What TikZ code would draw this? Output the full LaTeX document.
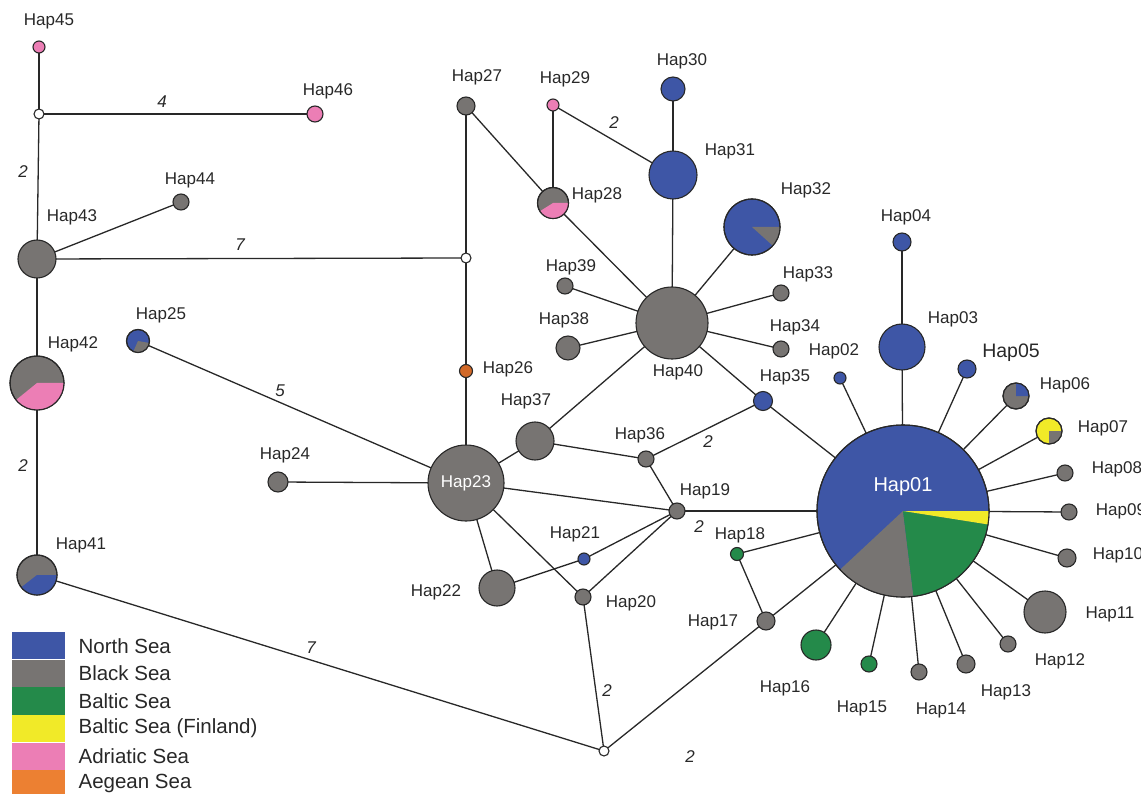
\documentclass[tikz,border=0pt]{standalone}
\usepackage{fontspec}
\setmainfont{Liberation Sans}
\usetikzlibrary{backgrounds}
\definecolor{nsea}{RGB}{62,86,166}
\definecolor{bsea}{RGB}{119,116,114}
\definecolor{balt}{RGB}{36,138,74}
\definecolor{fin}{RGB}{241,234,40}
\definecolor{adr}{RGB}{236,126,181}
\definecolor{aeg}{RGB}{236,128,50}
\definecolor{aegnode}{RGB}{210,105,40}
\definecolor{edgec}{RGB}{40,40,40}
\definecolor{txt}{RGB}{40,40,40}
\tikzset{
  hap/.style={circle, draw=edgec, line width=1.1pt, inner sep=0pt, outer sep=0pt},
  med/.style={hap, fill=white, minimum size=10pt},
  lbl/.style={text=txt, font=\fontsize{17}{20}\selectfont, inner sep=0pt},
  biglbl/.style={text=txt, font=\fontsize{19.5}{22}\selectfont, inner sep=0pt},
  whitelbl/.style={text=white, inner sep=0pt},
  num/.style={text=txt, font=\fontsize{17}{20}\selectfont\itshape, inner sep=0pt},
  link/.style={draw=edgec, line width=1.3pt},
  legbox/.style={inner sep=0pt, minimum width=53pt, minimum height=27.2pt},
  legtxt/.style={text=txt, font=\fontsize{20.5}{24}\selectfont, inner sep=0pt, anchor=west},
}
\newcommand{\hapnode}[5]{\node[hap, minimum size=#4*2pt, fill=#5] (#1) at (#2,-#3) {};}
\newcommand{\hapslice}[5]{\fill[#5] (#1.center) -- ++(#3:#2pt) arc[start angle=#3, end angle=#4, radius=#2pt] -- cycle;}
\newcommand{\hapring}[2]{\draw[draw=edgec, line width=1.1pt] (#1.center) circle[radius=#2pt];}
\begin{document}
\begin{tikzpicture}[x=1pt,y=1pt]
\useasboundingbox (0,-794) rectangle (1141,0);
\clip (0,-794) rectangle (1141,0);

% median vectors
\node[med] (m1) at (39,-114) {};
\node[med] (m2) at (466,-258) {};
\node[med] (m3) at (604,-751) {};

% haplotypes
\hapnode{h01}{903}{511}{86}{nsea}
\hapnode{h02}{840}{378}{6}{nsea}
\hapnode{h03}{902}{347}{23}{nsea}
\hapnode{h04}{902}{242}{9}{nsea}
\hapnode{h05}{967}{369}{9}{nsea}
\hapnode{h06}{1016}{396}{13}{bsea}
\hapnode{h07}{1049}{431}{13}{fin}
\hapnode{h08}{1065}{473}{8}{bsea}
\hapnode{h09}{1069}{512}{8}{bsea}
\hapnode{h10}{1067}{558}{9}{bsea}
\hapnode{h11}{1045}{612}{21}{bsea}
\hapnode{h12}{1008}{644}{8}{bsea}
\hapnode{h13}{966}{664}{9}{bsea}
\hapnode{h14}{919}{672}{8}{bsea}
\hapnode{h15}{869}{664}{8}{balt}
\hapnode{h16}{816}{645}{15}{balt}
\hapnode{h17}{766}{621}{9}{bsea}
\hapnode{h18}{737}{554}{6.5}{balt}
\hapnode{h19}{677}{511}{8}{bsea}
\hapnode{h20}{583}{597}{8}{bsea}
\hapnode{h21}{584}{559}{6}{nsea}
\hapnode{h22}{497}{588}{18}{bsea}
\hapnode{h23}{466}{483}{38}{bsea}
\hapnode{h24}{278}{482}{10}{bsea}
\hapnode{h25}{138}{341}{11.5}{nsea}
\hapnode{h26}{466}{371}{6.5}{aegnode}
\hapnode{h27}{466}{106}{9}{bsea}
\hapnode{h28}{553}{203}{15.5}{bsea}
\hapnode{h29}{553}{105}{6}{adr}
\hapnode{h30}{673}{89}{12}{nsea}
\hapnode{h31}{673}{175}{24}{nsea}
\hapnode{h32}{752}{227}{28}{nsea}
\hapnode{h33}{781}{293}{8}{bsea}
\hapnode{h34}{781}{349}{8}{bsea}
\hapnode{h35}{763}{401}{9.5}{nsea}
\hapnode{h36}{646}{459}{8}{bsea}
\hapnode{h37}{535}{441}{19}{bsea}
\hapnode{h38}{568}{348}{12}{bsea}
\hapnode{h39}{565}{286}{8}{bsea}
\hapnode{h40}{672}{323}{36}{bsea}
\hapnode{h41}{37}{575}{20}{bsea}
\hapnode{h42}{37}{383}{27}{bsea}
\hapnode{h43}{37}{259}{19}{bsea}
\hapnode{h44}{181}{202}{8}{bsea}
\hapnode{h45}{39}{47}{6}{adr}
\hapnode{h46}{315}{114}{8}{adr}

% pie slices
\hapslice{h01}{86}{223}{277}{bsea}
\hapslice{h01}{86}{277}{351}{balt}
\hapslice{h01}{86}{351}{360}{fin}
\hapring{h01}{86}
\hapslice{h06}{13}{0}{90}{nsea}
\hapring{h06}{13}
\hapslice{h07}{13}{270}{360}{bsea}
\hapring{h07}{13}
\hapslice{h32}{28}{318}{360}{bsea}
\hapring{h32}{28}
\hapslice{h28}{15.5}{212}{360}{adr}
\hapring{h28}{15.5}
\hapslice{h42}{27}{219}{360}{adr}
\hapring{h42}{27}
\hapslice{h41}{20}{218}{360}{nsea}
\hapring{h41}{20}
\hapslice{h25}{11.5}{246}{350}{bsea}
\hapring{h25}{11.5}

% connectors
\begin{scope}[on background layer]
\draw[link] (h45) -- (m1);
\draw[link] (m1) -- (h46);
\draw[link] (m1) -- (h43);
\draw[link] (h43) -- (h44);
\draw[link] (h43) -- (m2);
\draw[link] (h43) -- (h42);
\draw[link] (h42) -- (h41);
\draw[link] (h41) -- (m3);
\draw[link] (m3) -- (h20);
\draw[link] (m3) -- (h17);
\draw[link] (m2) -- (h27);
\draw[link] (m2) -- (h26);
\draw[link] (h26) -- (h23);
\draw[link] (h27) -- (h28);
\draw[link] (h29) -- (h28);
\draw[link] (h29) -- (h31);
\draw[link] (h30) -- (h31);
\draw[link] (h31) -- (h40);
\draw[link] (h28) -- (h40);
\draw[link] (h32) -- (h40);
\draw[link] (h33) -- (h40);
\draw[link] (h34) -- (h40);
\draw[link] (h39) -- (h40);
\draw[link] (h38) -- (h40);
\draw[link] (h37) -- (h40);
\draw[link] (h35) -- (h40);
\draw[link] (h35) -- (h01);
\draw[link] (h35) -- (h36);
\draw[link] (h37) -- (h23);
\draw[link] (h37) -- (h36);
\draw[link] (h36) -- (h19);
\draw[link] (h23) -- (h19);
\draw[link] (h19) -- (h01);
\draw[link] (h25) -- (h23);
\draw[link] (h24) -- (h23);
\draw[link] (h23) -- (h22);
\draw[link] (h23) -- (h20);
\draw[link] (h22) -- (h21);
\draw[link] (h21) -- (h19);
\draw[link] (h20) -- (h19);
\draw[link] (h18) -- (h01);
\draw[link] (h18) -- (h17);
\draw[link] (h17) -- (h01);
\draw[link] (h03) -- (h04);
\foreach \k in {02,03,05,06,07,08,09,10,11,12,13,14,15,16}{
  \draw[link] (h01) -- (h\k);
}
\end{scope}

% labels
\node[whitelbl, font=\fontsize{20}{22}\selectfont] (t01) at (903,-487) {Hap01};
\node[lbl] (t02) at (834,-351) {Hap02};
\node[lbl] (t03) at (953,-319) {Hap03};
\node[lbl] (t04) at (906,-217) {Hap04};
\node[biglbl] (t05) at (1011,-353) {Hap05};
\node[lbl] (t06) at (1065,-385) {Hap06};
\node[lbl] (t07) at (1103,-428) {Hap07};
\node[lbl] (t08) at (1117,-469) {Hap08};
\node[lbl] (t09) at (1121,-511) {Hap09};
\node[lbl] (t10) at (1118,-555) {Hap10};
\node[lbl] (t11) at (1110,-614) {Hap11};
\node[lbl] (t12) at (1060,-661) {Hap12};
\node[lbl] (t13) at (1006,-692) {Hap13};
\node[lbl] (t14) at (941,-710) {Hap14};
\node[lbl] (t15) at (862,-708) {Hap15};
\node[lbl] (t16) at (785,-688) {Hap16};
\node[lbl] (t17) at (713,-622) {Hap17};
\node[lbl] (t18) at (740,-535) {Hap18};
\node[lbl] (t19) at (705,-491) {Hap19};
\node[lbl] (t20) at (631,-603) {Hap20};
\node[lbl] (t21) at (575,-534) {Hap21};
\node[lbl] (t22) at (436,-592) {Hap22};
\node[whitelbl, font=\fontsize{17}{20}\selectfont] (t23) at (466,-483) {Hap23};
\node[lbl] (t24) at (285,-455) {Hap24};
\node[lbl] (t25) at (161,-315) {Hap25};
\node[lbl] (t26) at (508,-369) {Hap26};
\node[lbl] (t27) at (477,-77) {Hap27};
\node[lbl] (t28) at (597,-195) {Hap28};
\node[lbl] (t29) at (565,-79) {Hap29};
\node[lbl] (t30) at (682,-61) {Hap30};
\node[lbl] (t31) at (730,-151) {Hap31};
\node[lbl] (t32) at (806,-190) {Hap32};
\node[lbl] (t33) at (808,-274) {Hap33};
\node[lbl] (t34) at (795,-327) {Hap34};
\node[lbl] (t35) at (785,-377) {Hap35};
\node[lbl] (t36) at (640,-435) {Hap36};
\node[lbl] (t37) at (526,-401) {Hap37};
\node[lbl] (t38) at (564,-320) {Hap38};
\node[lbl] (t39) at (571,-267) {Hap39};
\node[lbl] (t40) at (678,-372) {Hap40};
\node[lbl] (t41) at (81,-545) {Hap41};
\node[lbl] (t42) at (73,-344) {Hap42};
\node[lbl] (t43) at (72,-217) {Hap43};
\node[lbl] (t44) at (190,-180) {Hap44};
\node[lbl] (t45) at (49,-21) {Hap45};
\node[lbl] (t46) at (328,-91) {Hap46};

% mutation counts
\node[num] (n1) at (162,-102) {4};
\node[num] (n2) at (23,-172) {2};
\node[num] (n3) at (240,-245) {7};
\node[num] (n4) at (614,-123) {2};
\node[num] (n5) at (280,-391) {5};
\node[num] (n6) at (708,-442) {2};
\node[num] (n7) at (699,-527) {2};
\node[num] (n8) at (23,-466) {2};
\node[num] (n9) at (311,-648) {7};
\node[num] (n10) at (607,-691) {2};
\node[num] (n11) at (690,-757) {2};

% legend
\node[legbox, fill=nsea, anchor=north west] (L1) at (12,-632) {};
\node[legbox, fill=bsea, anchor=north] (L2) at (L1.south) {};
\node[legbox, fill=balt, anchor=north] (L3) at (L2.south) {};
\node[legbox, fill=fin, anchor=north] (L4) at (L3.south) {};
\node[legbox, fill=adr, anchor=north] (L5) at (L4.south) {};
\node[legbox, fill=aeg, anchor=north] (L6) at (L5.south) {};
\node[legtxt] (T1) at ([xshift=13pt]L1.east) {North Sea};
\node[legtxt] (T2) at ([xshift=13pt]L2.east) {Black Sea};
\node[legtxt] (T3) at ([xshift=13pt]L3.east) {Baltic Sea};
\node[legtxt] (T4) at ([xshift=13pt]L4.east) {Baltic Sea (Finland)};
\node[legtxt] (T5) at ([xshift=13pt]L5.east) {Adriatic Sea};
\node[legtxt] (T6) at ([xshift=13pt]L6.east) {Aegean Sea};
\end{tikzpicture}
\end{document}
